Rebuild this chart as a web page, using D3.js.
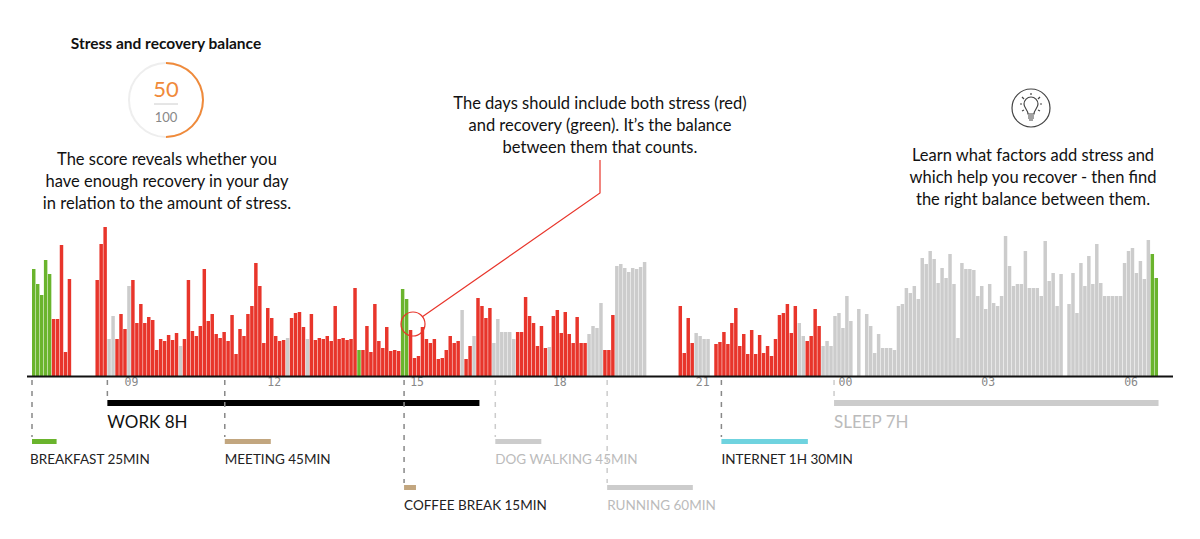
<!DOCTYPE html>
<html><head><meta charset="utf-8">
<script src="https://cdn.jsdelivr.net/npm/d3@7"></script>
<style>body{margin:0;background:#fff}svg{display:block}text{font-family:Lato,"Open Sans",sans-serif}</style>
</head><body><svg id="c" width="1200" height="539"></svg>
<script>
// 5-minute bins starting 07:09; value = stress/recovery intensity, type: g=recovery, r=stress, s=sleep/other, n=no data
const binValues = [
107,92,81,116,102,57,57,131,24,97,
0,0,0,0,0,0,
96,132,149,37,60,
37,62,47,90,96,53,72,53,59,
56,26,37,35,41,36,43,30,37,96,
45,40,50,107,55,62,42,38,44,35,
61,22,47,40,62,70,113,90,33,68,
58,40,35,36,38,58,63,64,49,37,
62,36,38,37,40,35,70,37,38,36,
37,88,26,26,50,24,72,35,28,49,
25,26,25,87,77,46,18,20,49,37,
33,37,17,18,26,40,33,35,66,17,
30,40,78,70,58,68,33,57,44,44,
44,37,44,44,79,60,53,30,50,28,
29,60,66,43,64,42,33,59,33,33,
42,50,48,73,26,26,61,110,112,108,
104,108,107,109,114,
0,0,0,0,0,0,0,0,
70,23,58,33,43,40,37,37,0,32,
34,44,32,53,68,30,42,22,46,22,
41,23,30,20,37,61,63,72,43,70,
53,40,35,40,67,50,30,35,30,60,
63,48,80,55,0,67,0,62,50,23,
42,28,28,28,26,70,72,88,83,90,
77,118,112,125,117,93,108,98,122,92,
38,113,107,107,106,80,90,67,92,73,
70,80,140,110,90,92,92,125,88,88,
88,80,135,95,103,70,102,0,72,
103,63,113,90,120,92,132,93,80,80,
80,80,80,113,125,128,103,115,97,136,122,98
];
const binTypes =
"gggggrrrrr"+"nnnnnn"+"rrrss"+"rrrsrrrrr"+"rrrrrrrsrr"+"rrrrrrrrrr"+"rrrrrrrrrr"+"rrrrsrrrrs"+"rrrrrrrrrr"+
"rrgrrrrrrr"+"rrrggrrrrr"+"rrrrrrrrsr"+"rsrrrrssss"+"ssrrrrrrrr"+"srrrrrrrrr"+"ssssrrrsss"+"sssss"+"nnnnnnnn"+
"rrrrssssnr"+"rrrrrrrrrr"+"rrrrrrrrrr"+"ssrrrrssss"+"ssssnsnsss"+"ssssssssss"+"ssssssssss"+"ssssssssss"+
"ssssssssss"+"sssssssns"+"ssssssssss"+"ssssssssssgg";
const hourTicks = ["09","12","15","18","21","00","03","06"];
const events = [
 {name:"WORK 8H", start:"08:44", end:"16:33", color:"#000", row:0, dark:true},
 {name:"SLEEP 7H", start:"24:00", end:"30:49", color:"#cccccc", row:0, dark:false},
 {name:"BREAKFAST 25MIN", start:"07:09", end:"07:40", color:"#6ab42d", row:1, dark:true},
 {name:"MEETING 45MIN", start:"11:12", end:"12:10", color:"#c2a67f", row:1, dark:true},
 {name:"DOG WALKING 45MIN", start:"16:53", end:"17:51", color:"#cccccc", row:1, dark:false},
 {name:"INTERNET 1H 30MIN", start:"21:38", end:"23:27", color:"#6fd3df", row:1, dark:true},
 {name:"COFFEE BREAK 15MIN", start:"14:58", end:"15:13", color:"#c2a67f", row:2, dark:true},
 {name:"RUNNING 60MIN", start:"19:14", end:"21:02", color:"#cccccc", row:2, dark:false}
];
const scoreValue = 50, scoreMax = 100;

const svg = d3.select("#c");
const day = new Date(2020,0,1,0,0);
const T = s => { const [h,m]=s.split(":").map(Number); return new Date(day.getTime()+(h*60+m)*60000); };
const t0 = T("07:09"), t1 = T("31:06");
const x = d3.scaleTime().domain([t0,t1]).range([32,1172]);
const y = d3.scaleLinear().domain([0,150]).range([376,226]);
const col = {g:"#6ab42d", r:"#e8352b", s:"#cccccc"};
const bins = binValues.map((v,i)=>({t:new Date(t0.getTime()+i*300000), v, k:binTypes[i]})).filter(d=>d.k!=="n");
svg.append("g").selectAll("rect").data(bins).join("rect")
 .attr("x",d=>x(d.t)).attr("width",d=>Math.max(1,x(new Date(d.t.getTime()+300000))-x(d.t)-0.5))
 .attr("y",d=>y(d.v)).attr("height",d=>y(0)-y(d.v)).attr("fill",d=>col[d.k]);

// axis
const hourDates = hourTicks.map(h=>{const n=+h; return T(((n<7?n+24:n))+":00");});
const ax = d3.axisBottom(x).tickValues(hourDates).tickSize(0).tickFormat((d,i)=>hourTicks[i]);
const g = svg.append("g").attr("transform","translate(0,376)").call(ax);
g.select(".domain").remove();
g.selectAll(".tick text").attr("text-anchor","start").attr("dx",4).attr("dy",7).attr("fill","#888")
 .style("font-family","DejaVu Sans Mono").style("font-size","11.5px");
svg.append("line").attr("x1",27).attr("x2",1173).attr("y1",376.5).attr("y2",376.5).attr("stroke","#111").attr("stroke-width",2);

// events
const rowY = [400,439,485];
events.forEach(e=>{
 const xs=x(T(e.start)), xe=x(T(e.end)), yy=rowY[e.row];
 svg.append("line").attr("x1",xs).attr("x2",xs).attr("y1",380).attr("y2",e.row===0?398:yy-2)
  .attr("stroke",e.dark?"#888":"#ccc").attr("stroke-width",1.5).attr("stroke-dasharray","5,6");
 svg.append("rect").attr("x",xs).attr("y",yy).attr("width",xe-xs).attr("height",e.row===0?6:5).attr("fill",e.color);
 svg.append("text").attr("x",xs).attr("y",e.row===0?yy+28:yy+25).text(e.name)
  .attr("fill",e.dark?(e.row===0?"#111":"#222"):"#bbb").style("font-size",e.row===0?"17px":"13.5px")
  .attr("dx",e.row===1&&e.name.startsWith("BREAK")?-2:0);
});

// score gauge
const cx=166, cy=100, r=37;
svg.append("text").attr("x",166).attr("y",49).attr("text-anchor","middle").style("font-weight","bold").style("font-size","15.5px").attr("fill","#111").text("Stress and recovery balance");
svg.append("circle").attr("cx",cx).attr("cy",cy).attr("r",r).attr("fill","none").attr("stroke","#eee").attr("stroke-width",2);
svg.append("path").attr("transform",`translate(${cx},${cy})`)
 .attr("d",d3.arc().innerRadius(r-1).outerRadius(r+1).startAngle(0).endAngle(2*Math.PI*scoreValue/scoreMax)())
 .attr("fill","#f08a3a");
svg.append("text").attr("x",cx).attr("y",97).attr("text-anchor","middle").attr("fill","#f08a3a").style("font-size","22px").text(scoreValue);
svg.append("line").attr("x1",cx-12).attr("x2",cx+12).attr("y1",104).attr("y2",104).attr("stroke","#ccc");
svg.append("text").attr("x",cx).attr("y",122).attr("text-anchor","middle").attr("fill","#888").style("font-size","13px").text(scoreMax);

function para(lines,cxp,y0){lines.forEach((l,i)=>svg.append("text").attr("x",cxp).attr("y",y0+i*22).attr("text-anchor","middle").attr("fill","#111").style("font-size","16.5px").text(l));}
para(["The score reveals whether you","have enough recovery in your day","in relation to the amount of stress."],167,165);
para(["The days should include both stress (red)","and recovery (green). It’s the balance","between them that counts."],600,109);
para(["Learn what factors add stress and","which help you recover - then find","the right balance between them."],1033,161);

// callout
svg.append("polyline").attr("points","600,160 600,193 422,317").attr("fill","none").attr("stroke","#e8352b").attr("stroke-width",1.2);
svg.append("circle").attr("cx",413).attr("cy",324).attr("r",12).attr("fill","none").attr("stroke","#e8352b").attr("stroke-width",1.2);

// bulb icon
const ic = svg.append("g").attr("transform","translate(1031,108)").attr("fill","none").attr("stroke","#444").attr("stroke-width",1.2);
ic.append("circle").attr("r",19);
ic.append("path").attr("d","M-3,6 C-3,2 -7,0 -7,-4 A7,7 0 1 1 7,-4 C7,0 3,2 3,6 Z");
ic.append("path").attr("d","M-3,8 H3 M-3,10 H3 M-2,12 H2");
[[-11,-4,-9,-4],[9,-4,11,-4],[-9,-11,-7,-9],[9,-11,7,-9],[0,-15,0,-13],[-9,3,-7,2],[9,3,7,2]].forEach(p=>ic.append("line").attr("x1",p[0]).attr("y1",p[1]).attr("x2",p[2]).attr("y2",p[3]));
</script></body></html>
